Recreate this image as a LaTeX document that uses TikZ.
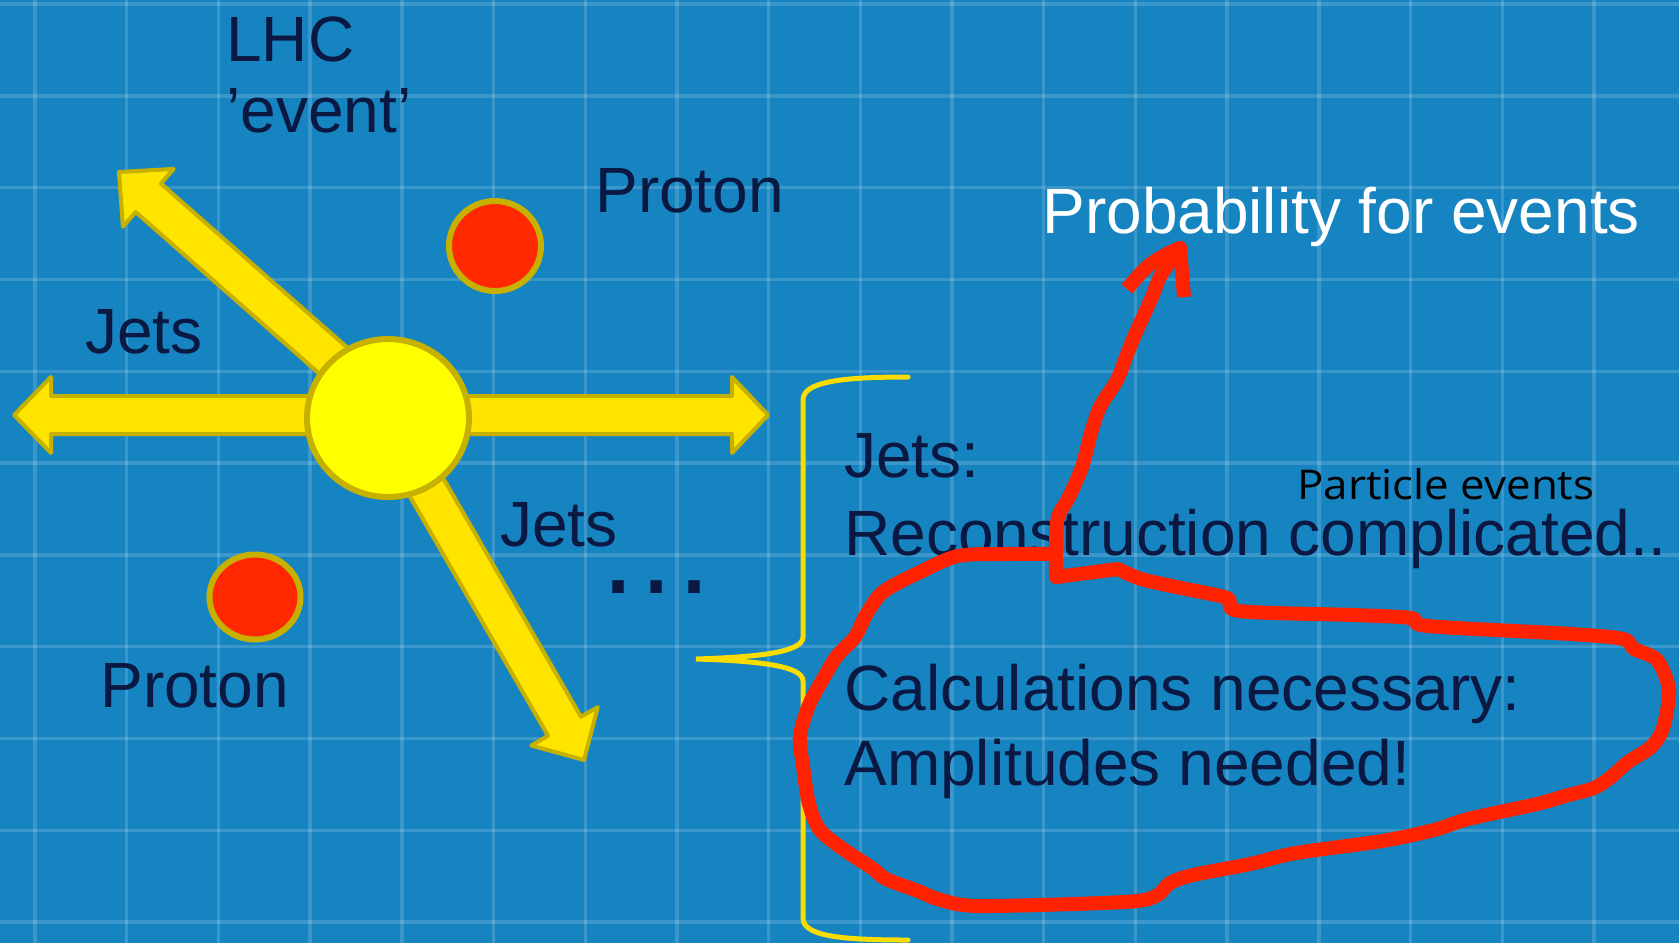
\documentclass[tikz,border=0pt]{standalone}
\usepackage{fontspec}
\setmainfont{Liberation Sans}
\newfontfamily\pefont{Open Sans}
\usetikzlibrary{shapes.geometric}
\definecolor{bgblue}{RGB}{22,132,192}
\definecolor{navy}{RGB}{10,24,66}
\definecolor{arrowy}{RGB}{255,228,0}
\definecolor{edgey}{RGB}{198,176,0}
\definecolor{sunny}{RGB}{255,255,0}
\definecolor{protonred}{RGB}{255,40,0}
\definecolor{bracey}{RGB}{250,220,0}
\definecolor{inkred}{RGB}{255,34,0}
\begin{document}
\begin{tikzpicture}[x=0.5pt,y=-0.5pt,
  txt/.style={inner sep=0pt, anchor=base west, text=navy, font=\fontsize{32}{38}\selectfont},
  blockarrow/.style={fill=arrowy, draw=edgey, line width=2pt, line join=round},
  ball/.style={ellipse, draw=edgey, line width=3pt, inner sep=0pt},
  gridline/.style={draw=white, opacity=0.16, line width=1.7pt},
  ink/.style={draw=inkred, line width=7pt, line join=round, line cap=round},
  bracepath/.style={draw=bracey, line width=2.5pt, line cap=round}]
\useasboundingbox (0,0) rectangle (1679,943);
\fill[bgblue] (0,0) rectangle (1679,943);
% grid
\foreach \k in {0,...,18} \draw[gridline] ({35+91.7*\k},0) -- ({35+91.7*\k},943);
\foreach \k in {0,...,10} \draw[gridline] (0,{4+91.8*\k}) -- (1679,{4+91.8*\k});
% jets arrows
\draw[blockarrow] (14,415) -- (51,377) -- (51,396) -- (732,396) -- (732,377) -- (768,415) -- (732,453) -- (732,434) -- (51,434) -- (51,453) -- cycle;
\draw[blockarrow] (119,172) -- (173.7,168.9) -- (160.9,183.5) -- (386.8,382.3) -- (361.7,410.9) -- (135.7,212.1) -- (122.9,226.7) -- cycle;
\draw[blockarrow] (584,760) -- (531.2,745.5) -- (548.0,735.7) -- (382.5,449.1) -- (415.5,430.1) -- (581.0,716.7) -- (597.8,707) -- cycle;
% collision and protons
\node[ball, fill=sunny, minimum width=81pt, minimum height=79pt] (core) at (388,418) {};
\node[ball, fill=protonred, minimum width=46pt, minimum height=45pt] (p1) at (495,246) {};
\node[ball, fill=protonred, minimum width=45.5pt, minimum height=42.5pt] (p2) at (255,597) {};
% labels
\node[txt] (lhc) at (226,61) {LHC};
\node[txt] (ev) at (226,132) {’event’};
\node[txt] (prt1) at (595,212) {Proton};
\node[txt, text=white] (prob) at (1042,233) {Probability for events};
\node[txt] (jl) at (85,353) {Jets};
\node[txt] (jm) at (500,546) {Jets};
\node[txt, font=\fontsize{60}{70}\selectfont] (dots) at (596,593) {…};
\node[txt] (prt2) at (100,707) {Proton};
\node[txt] (jc) at (844,477) {Jets:};
\node[txt] (rc) at (844,555) {Reconstruction complicated..};
\node[txt, text=black, font=\pefont\fontsize{20.5}{24}\selectfont] (pe) at (1297,499) {\scalebox{1.07}[1]{Particle events}};
\node[txt] (cn) at (844,710) {Calculations necessary:};
\node[txt] (an) at (844,785) {Amplitudes needed!};
% brace
\draw[bracepath] (908,377) .. controls (840,377) and (803,382) .. (803,400) -- (803,637) .. controls (803,652) and (760,657) .. (696,659) .. controls (760,661) and (803,666) .. (803,681) -- (803,918) .. controls (803,936) and (840,940) .. (908,940);
% red annotation
\draw[ink, line cap=butt] plot[smooth, tension=0.6] coordinates {(1127,289) (1147,267) (1165,255) (1180,248)} -- (1184,297);
\draw[ink] plot[smooth, tension=0.5] coordinates {(1180,248) (1173,257) (1160,277) (1152,297) (1143,317) (1134,337) (1126,357) (1117,380) (1100,407) (1091,433) (1082,467) (1069,497) (1058,517) (1056,545) (1056,577)}
 -- plot[smooth, tension=0.5] coordinates {(1118,569) (1141,579) (1181,588) (1227,598) (1239,611) (1353,615) (1411,618) (1428,626) (1571,634) (1623,639) (1634,649) (1657,660) (1669,690) (1663,728) (1651,747) (1628,762) (1611,777) (1594,788) (1565,796) (1537,804) (1468,819) (1434,830) (1382,841) (1296,853) (1250,864) (1193,875) (1170,883) (1156,896) (1124,902) (981,906) (941,900) (918,891) (886,879) (872,868) (843,849) (820,830) (809,804) (803,766) (800,736) (809,705) (823,679) (837,656) (855,637) (866,615) (883,592) (918,573) (958,556) (1009,554) (1056,554)};
\end{tikzpicture}
\end{document}
